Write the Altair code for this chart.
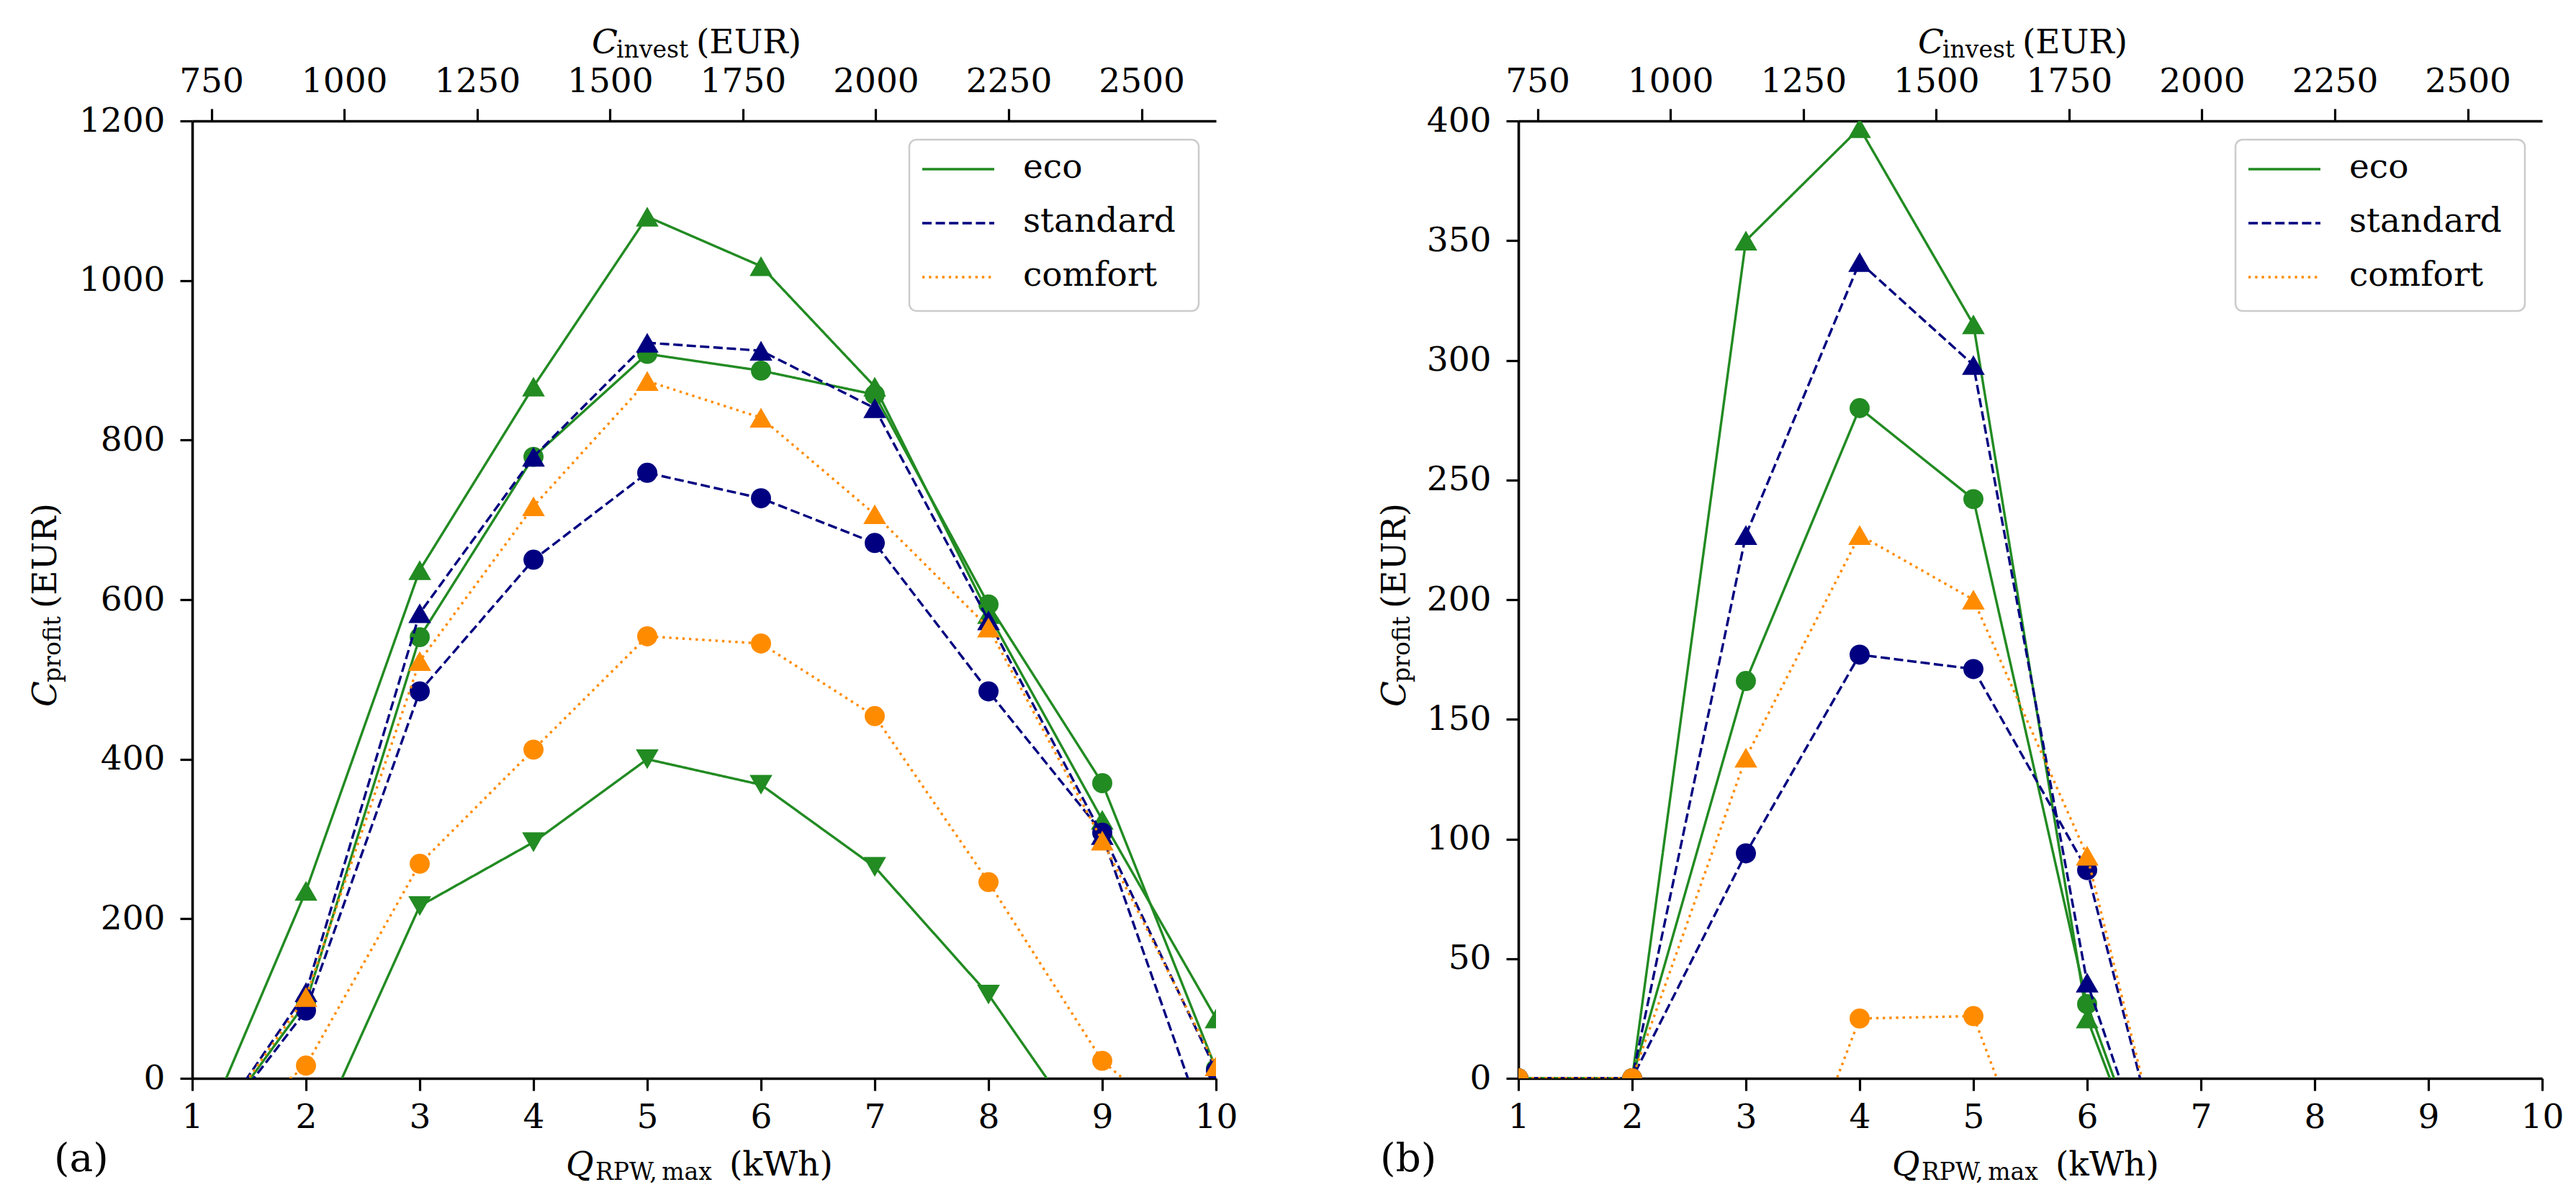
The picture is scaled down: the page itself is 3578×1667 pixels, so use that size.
import altair as alt
import pandas as pd

# ---------------- data ----------------
Q = [1, 2, 3, 4, 5, 6, 7, 8, 9, 10]
invest_ticks = [750, 1000, 1250, 1500, 1750, 2000, 2250, 2500]
invest_range = [714, 2640]  # C_invest at Q = 1 and Q = 10

variants = ["eco", "standard", "comfort"]
variant_colors = ["#228b22", "#000080", "#ff8c00"]

# panel (a)
a_eco_up = [-100, 235, 637, 867, 1080, 1018, 867, 582, 324, 75]
a_eco_circle = [-100, 95, 553, 779, 908, 887, 857, 594, 370, 12]
a_eco_down = [-100, -100, 216, 296, 400, 368, 265, 105, -100, -100]
a_std_up = [-100, 108, 583, 779, 922, 912, 840, 574, 305, -100]
a_std_circle = [-100, 85, 485, 650, 759, 727, 671, 485, 308, 10]
a_com_up = [-100, 102, 523, 717, 874, 828, 707, 565, 298, 15]
a_com_circle = [-100, 16, 269, 412, 554, 545, 454, 246, 22, -100]

# panel (b)
b_eco_up = [0, 0, 350, 397, 315, 25, -100, -100, -100, -100]
b_eco_circle = [0, 0, 166, 280, 242, 31, -100, -100, -100, -100]
b_std_up = [0, 0, 227, 341, 298, 40, -100, -100, -100, -100]
b_std_circle = [0, 0, 94, 177, 171, 87, -100, -100, -100, -100]
b_com_up = [0, 0, 134, 227, 200, 93, -100, -100, -100, -100]
b_com_circle = [0, 0, -100, 25, 26, -100, -100, -100, -100, -100]

a_ticks = [0, 200, 400, 600, 800, 1000, 1200]
b_ticks = [0, 50, 100, 150, 200, 250, 300, 350, 400]

series_a = [
    ("eco_up", "eco", "up", a_eco_up),
    ("eco_circle", "eco", "circle", a_eco_circle),
    ("eco_down", "eco", "down", a_eco_down),
    ("std_up", "standard", "up", a_std_up),
    ("std_circle", "standard", "circle", a_std_circle),
    ("com_up", "comfort", "up", a_com_up),
    ("com_circle", "comfort", "circle", a_com_circle),
]
series_b = [
    ("eco_up", "eco", "up", b_eco_up),
    ("eco_circle", "eco", "circle", b_eco_circle),
    ("std_up", "standard", "up", b_std_up),
    ("std_circle", "standard", "circle", b_std_circle),
    ("com_up", "comfort", "up", b_com_up),
    ("com_circle", "comfort", "circle", b_com_circle),
]

# ---------------- styling ----------------
FONT = "DejaVu Serif"
FS = 47
SUB = 33
W, H = 1422, 1330
SHAPES = {"up": "triangle-up", "circle": "circle", "down": "triangle-down"}
SIZES = {"up": 1000, "circle": 780, "down": 1000}
DASHES = [[1, 0], [13, 5.6], [3.4, 5.8]]

AXIS_STYLE = dict(labelFont=FONT, labelFontSize=FS, labelColor="black",
                  tickColor="black", domainColor="black", tickWidth=3.2,
                  domainWidth=3.6, grid=False, title=None, format="d",
                  labelFlush=False, labelOverlap=False, tickSize=17)


def piece(txt, x, y, dx=0, dy=0, size=FS, italic=False, angle=None):
    kw = dict(align="left", baseline="alphabetic", font=FONT, fontSize=size,
              color="black", dx=dx, dy=dy)
    if italic:
        kw["fontStyle"] = "italic"
    if angle is not None:
        kw["angle"] = angle
    return (alt.Chart(pd.DataFrame({"t": [txt]}))
            .mark_text(**kw)
            .encode(text="t:N", x=alt.value(x), y=alt.value(y)))


def make_panel(series, ymax, yticks, ytitle_x, tag):
    rows = []
    for name, variant, marker, vals in series:
        for q, v in zip(Q, vals):
            rows.append({"series": name, "variant": variant, "marker": marker,
                         "Q": q, "value": v})
    df = pd.DataFrame(rows)

    xenc = alt.X("Q:Q", scale=alt.Scale(domain=[1, 10], nice=False, zero=False),
                 axis=alt.Axis(values=Q, labelBaseline="top", labelPadding=14,
                               **AXIS_STYLE))
    yenc = alt.Y("value:Q", scale=alt.Scale(domain=[0, ymax], nice=False, zero=False),
                 axis=alt.Axis(values=yticks, labelPadding=21, **AXIS_STYLE))
    color = alt.Color("variant:N", scale=alt.Scale(domain=variants, range=variant_colors),
                      legend=None)
    dash = alt.StrokeDash("variant:N", scale=alt.Scale(domain=variants, range=DASHES),
                          legend=None)

    layers = []
    for name, variant, marker, vals in series:
        src = alt.Chart(df).transform_filter(alt.datum.series == name)
        layers.append(src.mark_line(clip=True, strokeWidth=3.4)
                      .encode(x=xenc, y=yenc, color=color, strokeDash=dash))
        layers.append(src.mark_point(clip=True, filled=True, opacity=1, strokeWidth=0,
                                     shape=SHAPES[marker], size=SIZES[marker])
                      .encode(x=xenc, y=yenc, color=color))

    # legend (inside, upper right)
    deco = []
    deco.append(alt.Chart(pd.DataFrame({"box": [0]}))
                .mark_rect(fill="white", fillOpacity=0.8, stroke="#cccccc",
                           strokeWidth=2.5, cornerRadius=10)
                .encode(x=alt.value(996), x2=alt.value(1398),
                        y=alt.value(26), y2=alt.value(264)))
    for i, var in enumerate(variants):
        ry = 67 + 75 * i
        ld = pd.DataFrame({"variant": [var]})
        deco.append(alt.Chart(ld).mark_rule(strokeWidth=3.4)
                    .encode(x=alt.value(1014), x2=alt.value(1114), y=alt.value(ry),
                            color=color, strokeDash=dash))
        deco.append(alt.Chart(ld).mark_text(align="left", baseline="middle", font=FONT,
                                            fontSize=FS, color="black")
                    .encode(text="variant:N", x=alt.value(1154), y=alt.value(ry - 2)))

    # axis titles with sub-scripts
    cx = W / 2
    deco += [
        piece("C", cx, -94, dx=-156, italic=True),
        piece("invest", cx, -94, dx=-122, dy=6, size=SUB),
        piece("(EUR)", cx, -94, dx=-11),
        piece("Q", cx, 1465, dx=-192, italic=True),
        piece("RPW,\u2009max", cx, 1465, dx=-151, dy=6, size=SUB),
        piece("(kWh)", cx, 1465, dx=35),
        piece("C", ytitle_x, H / 2, dx=-149, italic=True, angle=270),
        piece("profit", ytitle_x, H / 2, dx=-115, dy=6, size=SUB, angle=270),
        piece("(EUR)", ytitle_x, H / 2, dx=-12, angle=270),
        piece(tag, -192, 1459, size=55),
    ]

    inner = alt.layer(*layers, *deco)

    top = (alt.Chart(pd.DataFrame({"C": invest_ticks}))
           .mark_point(opacity=0)
           .encode(x=alt.X("C:Q", scale=alt.Scale(domain=invest_range, nice=False, zero=False),
                           axis=alt.Axis(orient="top", values=invest_ticks,
                                         labelBaseline="alphabetic", labelPadding=24,
                                         **AXIS_STYLE))))

    return (alt.layer(inner, top)
            .resolve_scale(x="independent")
            .properties(width=W, height=H))


pa = make_panel(series_a, 1200, a_ticks, -189, "(a)")
pb = make_panel(series_b, 400, b_ticks, -157, "(b)")

chart = (alt.hconcat(pa, pb, spacing=420, bounds="flush")
         .properties(padding={"left": 32, "top": 28, "right": 0, "bottom": 0},
                     background="white")
         .configure_view(stroke=None)
         .configure_axis(labelFont=FONT, labelFontSize=FS, labelColor="black",
                         tickColor="black", domainColor="black", tickWidth=3.2,
                         domainWidth=3.6, grid=False))

chart.save("out.html", embed_options={"renderer": "svg", "actions": False})
